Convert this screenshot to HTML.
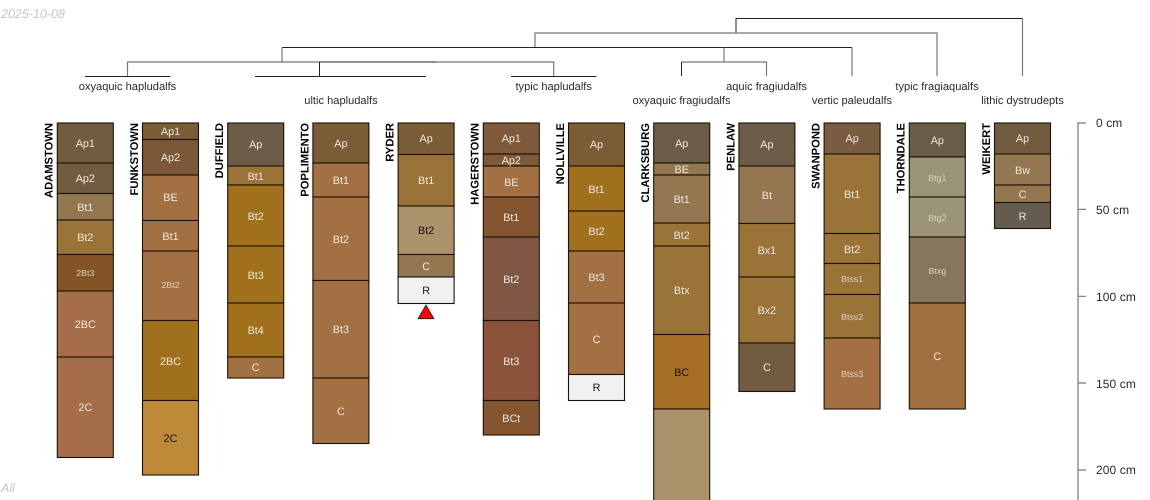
<!DOCTYPE html>
<html><head><meta charset="utf-8"><style>
html,body{margin:0;padding:0;background:#fff;width:1150px;height:500px;overflow:hidden}
svg{display:block;font-family:"Liberation Sans",sans-serif;text-rendering:geometricPrecision}
.h rect{stroke:#1a1206;stroke-width:1.1}
.h text{font-size:10.8px;text-anchor:middle;fill:#efe9e0}
.h text.s{font-size:8.8px;fill:#dcd2c2}
.h text.k{fill:#111}
.n{font-size:11.2px;font-weight:bold;text-anchor:end;fill:#000}
.t{font-size:11.1px;text-anchor:middle;fill:#2a2a2a}
.a{font-size:12px;letter-spacing:.1px;fill:#2a2a2a}
.d{fill:none;stroke:#222;stroke-width:1}
.g{fill:none;stroke:#777;stroke-width:1.2}
</style></head><body>
<svg width="1150" height="500" viewBox="0 0 1150 500" xmlns="http://www.w3.org/2000/svg">
<text x="1" y="18" font-size="12.5" font-style="italic" fill="#c4c4c4">2025-10-08</text>
<text x="1" y="492" font-size="12.5" font-style="italic" fill="#c4c4c4">All</text>

<path class="d" d="M736 33V18.5H1022.5"/><path class="g" d="M1022.5 18.5V76"/>
<path class="g" d="M535 47V33H937V76"/>
<path class="d" d="M282 47.5H852"/><path class="g" d="M852 47.5V76M282 47.5V62"/>
<path class="g" d="M127.5 76V62H319M437 62H553.7V76"/><path class="d" d="M319.5 76V62H437"/>
<path class="d" d="M85 76.5H170.5M255 76.5H426M511 76.5H596.5"/>
<path class="g" d="M724 47.5V62"/><path class="g" d="M681.5 62H766.5V76"/><path class="d" d="M681.5 62V76"/>

<text class="t" x="127.5" y="90">oxyaquic hapludalfs</text>
<text class="t" x="341" y="104">ultic hapludalfs</text>
<text class="t" x="553.7" y="90">typic hapludalfs</text>
<text class="t" x="681.5" y="104">oxyaquic fragiudalfs</text>
<text class="t" x="766.5" y="90">aquic fragiudalfs</text>
<text class="t" x="852" y="104">vertic paleudalfs</text>
<text class="t" x="937" y="90">typic fragiaqualfs</text>
<text class="t" x="1022.5" y="104">lithic dystrudepts</text>

<g class="h" transform="translate(57.3 0)">
<rect y="123" width="56" height="40" fill="#725c40"/><rect y="163" width="56" height="30.5" fill="#725c40"/><rect y="193.5" width="56" height="26.5" fill="#927750"/><rect y="220" width="56" height="34.5" fill="#9a7338"/><rect y="254.5" width="56" height="36.5" fill="#835526"/><rect y="291" width="56" height="66" fill="#a56d48"/><rect y="357" width="56" height="100.5" fill="#a56d48"/>
<text x="28" y="147">Ap1</text><text x="28" y="182">Ap2</text><text x="28" y="211">Bt1</text><text x="28" y="241">Bt2</text><text class="s" x="28" y="276">2Bt3</text><text x="28" y="328">2BC</text><text x="28" y="411">2C</text>
</g>
<text class="n" transform="translate(52.7 123) rotate(-90)">ADAMSTOWN</text>

<g class="h" transform="translate(142.5 0)">
<rect y="123" width="56" height="16.5" fill="#7a5c36"/><rect y="139.5" width="56" height="35.5" fill="#7a5838"/><rect y="175" width="56" height="45.5" fill="#a27042"/><rect y="220.5" width="56" height="30.5" fill="#a27042"/><rect y="251" width="56" height="69.5" fill="#a27042"/><rect y="320.5" width="56" height="80" fill="#a0701c"/><rect y="400.5" width="56" height="74.5" fill="#bc8a38"/>
<text x="28" y="135">Ap1</text><text x="28" y="161">Ap2</text><text x="28" y="201">BE</text><text x="28" y="240">Bt1</text><text class="s" x="28" y="288">2Bt2</text><text x="28" y="365">2BC</text><text class="k" x="28" y="442">2C</text>
</g>
<text class="n" transform="translate(137.9 123) rotate(-90)">FUNKSTOWN</text>

<g class="h" transform="translate(227.7 0)">
<rect y="123" width="56" height="43" fill="#6e5c4a"/><rect y="166" width="56" height="19" fill="#9a7338"/><rect y="185" width="56" height="61" fill="#a0701c"/><rect y="246" width="56" height="57" fill="#a0701c"/><rect y="303" width="56" height="54" fill="#a0701c"/><rect y="357" width="56" height="21" fill="#a27042"/>
<text x="28" y="148">Ap</text><text x="28" y="180">Bt1</text><text x="28" y="220">Bt2</text><text x="28" y="279">Bt3</text><text x="28" y="334">Bt4</text><text x="28" y="371">C</text>
</g>
<text class="n" transform="translate(223.1 123) rotate(-90)">DUFFIELD</text>

<g class="h" transform="translate(312.9 0)">
<rect y="123" width="56" height="40" fill="#7a5c36"/><rect y="163" width="56" height="34" fill="#a27042"/><rect y="197" width="56" height="83.5" fill="#a27042"/><rect y="280.5" width="56" height="97.5" fill="#a27042"/><rect y="378" width="56" height="65.5" fill="#a27042"/>
<text x="28" y="147">Ap</text><text x="28" y="184">Bt1</text><text x="28" y="243">Bt2</text><text x="28" y="333">Bt3</text><text x="28" y="415">C</text>
</g>
<text class="n" transform="translate(308.3 123) rotate(-90)">POPLIMENTO</text>

<g class="h" transform="translate(398.1 0)">
<rect y="123" width="56" height="31.5" fill="#7a5c36"/><rect y="154.5" width="56" height="51.5" fill="#9a7338"/><rect y="206" width="56" height="48.5" fill="#ac926a"/><rect y="254.5" width="56" height="22.5" fill="#927750"/><rect y="277" width="56" height="26.5" fill="#f0f0f0"/>
<text x="28" y="142">Ap</text><text x="28" y="184">Bt1</text><text class="k" x="28" y="234">Bt2</text><text x="28" y="270">C</text><text class="k" x="28" y="294">R</text>
</g>
<text class="n" transform="translate(393.5 123) rotate(-90)">RYDER</text>
<path d="M426 305L418 318.7H434Z" fill="#f00" stroke="#222" stroke-width="0.8"/>

<g class="h" transform="translate(483.3 0)">
<rect y="123" width="56" height="31" fill="#7f5a3a"/><rect y="154" width="56" height="12" fill="#7f5a3a"/><rect y="166" width="56" height="31" fill="#a27042"/><rect y="197" width="56" height="40" fill="#855430"/><rect y="237" width="56" height="83.5" fill="#805745"/><rect y="320.5" width="56" height="80" fill="#8b5339"/><rect y="400.5" width="56" height="34.5" fill="#855430"/>
<text x="28" y="142">Ap1</text><text x="28" y="164">Ap2</text><text x="28" y="186">BE</text><text x="28" y="221">Bt1</text><text x="28" y="283">Bt2</text><text x="28" y="365">Bt3</text><text x="28" y="422">BCt</text>
</g>
<text class="n" transform="translate(478.7 123) rotate(-90)">HAGERSTOWN</text>

<g class="h" transform="translate(568.5 0)">
<rect y="123" width="56" height="43" fill="#7a5c36"/><rect y="166" width="56" height="45" fill="#a0701c"/><rect y="211" width="56" height="40" fill="#a0701c"/><rect y="251" width="56" height="52" fill="#a27042"/><rect y="303" width="56" height="71.5" fill="#a27042"/><rect y="374.5" width="56" height="26" fill="#f0f0f0"/>
<text x="28" y="148">Ap</text><text x="28" y="193">Bt1</text><text x="28" y="235">Bt2</text><text x="28" y="281">Bt3</text><text x="28" y="343">C</text><text class="k" x="28" y="391">R</text>
</g>
<text class="n" transform="translate(563.9 123) rotate(-90)">NOLLVILLE</text>

<g class="h" transform="translate(653.7 0)">
<rect y="123" width="56" height="40" fill="#6e5c4a"/><rect y="163" width="56" height="12" fill="#927750"/><rect y="175" width="56" height="48" fill="#927750"/><rect y="223" width="56" height="23" fill="#9a7338"/><rect y="246" width="56" height="88.5" fill="#9a7338"/><rect y="334.5" width="56" height="74.5" fill="#a66d25"/><rect y="409" width="56" height="100" fill="#ac926a"/>
<text x="28" y="147">Ap</text><text x="28" y="173">BE</text><text x="28" y="203">Bt1</text><text x="28" y="239">Bt2</text><text x="28" y="294">Btx</text><text class="k" x="28" y="376">BC</text>
</g>
<text class="n" transform="translate(649.1 123) rotate(-90)">CLARKSBURG</text>

<g class="h" transform="translate(738.9 0)">
<rect y="123" width="56" height="43" fill="#6e5c4a"/><rect y="166" width="56" height="57.5" fill="#927750"/><rect y="223.5" width="56" height="53.5" fill="#9a7338"/><rect y="277" width="56" height="66" fill="#9a7338"/><rect y="343" width="56" height="48.5" fill="#725c40"/>
<text x="28" y="148">Ap</text><text x="28" y="199">Bt</text><text x="28" y="254">Bx1</text><text x="28" y="314">Bx2</text><text x="28" y="371">C</text>
</g>
<text class="n" transform="translate(734.3 123) rotate(-90)">PENLAW</text>

<g class="h" transform="translate(824.1 0)">
<rect y="123" width="56" height="31" fill="#7a5c40"/><rect y="154" width="56" height="79.5" fill="#9a7338"/><rect y="233.5" width="56" height="30" fill="#9a7338"/><rect y="263.5" width="56" height="31" fill="#9a7338"/><rect y="294.5" width="56" height="43.5" fill="#9a7338"/><rect y="338" width="56" height="71" fill="#a27042"/>
<text x="28" y="142">Ap</text><text x="28" y="198">Bt1</text><text x="28" y="253">Bt2</text><text class="s" x="28" y="282">Btss1</text><text class="s" x="28" y="320">Btss2</text><text class="s" x="28" y="377">Btss3</text>
</g>
<text class="n" transform="translate(819.5 123) rotate(-90)">SWANPOND</text>

<g class="h" transform="translate(909.3 0)">
<rect y="123" width="56" height="34" fill="#6a5d48"/><rect y="157" width="56" height="40" fill="#9c9478"/><rect y="197" width="56" height="40" fill="#9c9478"/><rect y="237" width="56" height="66" fill="#877560"/><rect y="303" width="56" height="106" fill="#a0703e"/>
<text x="28" y="144">Ap</text><text class="s" x="28" y="181">Btg1</text><text class="s" x="28" y="221">Btg2</text><text class="s" x="28" y="274">Btxg</text><text x="28" y="360">C</text>
</g>
<text class="n" transform="translate(904.7 123) rotate(-90)">THORNDALE</text>

<g class="h" transform="translate(994.5 0)">
<rect y="123" width="56" height="31" fill="#725c40"/><rect y="154" width="56" height="31" fill="#927750"/><rect y="185" width="56" height="17.5" fill="#927750"/><rect y="202.5" width="56" height="26" fill="#655c50"/>
<text x="28" y="142">Ap</text><text x="28" y="174">Bw</text><text x="28" y="198">C</text><text x="28" y="220">R</text>
</g>
<text class="n" transform="translate(989.9 123) rotate(-90)">WEIKERT</text>

<path d="M1086 123H1078V500M1078 209.3H1086M1078 296.3H1086M1078 383H1086M1078 470H1086" fill="none" stroke="#777" stroke-width="1.2"/>
<text class="a" x="1096" y="127">0 cm</text>
<text class="a" x="1096" y="214">50 cm</text>
<text class="a" x="1096" y="301">100 cm</text>
<text class="a" x="1096" y="388">150 cm</text>
<text class="a" x="1096" y="474">200 cm</text>
</svg>
</body></html>
